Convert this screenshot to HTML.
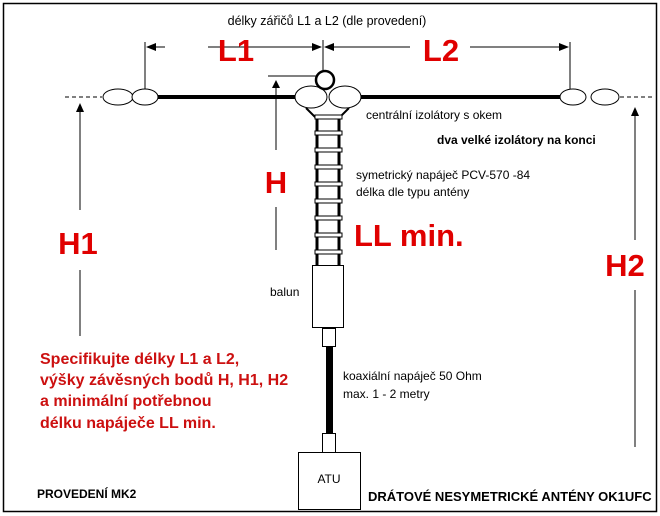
<!DOCTYPE html>
<html><head><meta charset="utf-8"><style>
html,body{margin:0;padding:0;background:#fff}
svg{display:block}
text{font-family:"Liberation Sans",sans-serif}
</style></head><body>
<svg width="660" height="516" viewBox="0 0 660 516" xmlns="http://www.w3.org/2000/svg">
<rect x="3.5" y="3.5" width="653" height="508" fill="none" stroke="#000" stroke-width="1.5"/>
<line x1="65" y1="97" x2="102" y2="97" stroke="#000" stroke-dasharray="4,3"/>
<line x1="620" y1="97" x2="655" y2="97" stroke="#000" stroke-dasharray="4,3"/>
<line x1="158" y1="97" x2="298" y2="97" stroke="#000" stroke-width="4"/>
<line x1="358" y1="97" x2="562" y2="97" stroke="#000" stroke-width="4"/>
<ellipse cx="118" cy="97" rx="15" ry="8" fill="#fff" stroke="#000"/>
<ellipse cx="145" cy="97" rx="13" ry="8" fill="#fff" stroke="#000"/>
<ellipse cx="573" cy="97" rx="13" ry="8" fill="#fff" stroke="#000"/>
<ellipse cx="605" cy="97" rx="14" ry="8" fill="#fff" stroke="#000"/>
<line x1="145" y1="42" x2="145" y2="89" stroke="#000"/>
<line x1="570" y1="42" x2="570" y2="89" stroke="#000"/>
<line x1="323" y1="40" x2="323" y2="72" stroke="#000"/>
<line x1="150" y1="47" x2="165" y2="47" stroke="#000"/>
<line x1="208" y1="47" x2="318" y2="47" stroke="#000"/>
<line x1="328" y1="47" x2="410" y2="47" stroke="#000"/>
<line x1="470" y1="47" x2="565" y2="47" stroke="#000"/>
<polygon points="146,47 156,43 156,51" fill="#000"/>
<polygon points="322,47 312,43 312,51" fill="#000"/>
<polygon points="324,47 334,43 334,51" fill="#000"/>
<polygon points="569,47 559,43 559,51" fill="#000"/>
<text x="327" y="25" font-size="12.5" text-anchor="middle">délky zářičů L1 a L2  (dle provedení)</text>
<text x="236" y="61" font-size="31" font-weight="bold" fill="#e00000" text-anchor="middle">L1</text>
<text x="441" y="61" font-size="31" font-weight="bold" fill="#e00000" text-anchor="middle">L2</text>
<path d="M306 108 L316 118 L339 118 L349 108" fill="#fff" stroke="#000" stroke-width="2"/>
<ellipse cx="311" cy="97" rx="16" ry="11" fill="#fff" stroke="#000"/>
<ellipse cx="345" cy="97" rx="16" ry="11" fill="#fff" stroke="#000"/>
<circle cx="325" cy="80" r="9" fill="#fff" stroke="#000" stroke-width="2.5"/>
<line x1="268" y1="76" x2="318" y2="76" stroke="#000"/>
<line x1="276" y1="86" x2="276" y2="150" stroke="#000"/>
<line x1="276" y1="207" x2="276" y2="250" stroke="#000"/>
<polygon points="276,80 272,88 280,88" fill="#000"/>
<text x="276" y="193" font-size="31" font-weight="bold" fill="#e00000" text-anchor="middle">H</text>
<line x1="317" y1="118" x2="317" y2="265" stroke="#000" stroke-width="3"/>
<line x1="339" y1="118" x2="339" y2="265" stroke="#000" stroke-width="3"/>
<g fill="#fff" stroke="#000">
<rect x="315" y="115" width="27" height="4"/>
<rect x="315" y="131" width="27" height="4"/>
<rect x="315" y="148" width="27" height="4"/>
<rect x="315" y="165" width="27" height="4"/>
<rect x="315" y="182" width="27" height="4"/>
<rect x="315" y="199" width="27" height="4"/>
<rect x="315" y="216" width="27" height="4"/>
<rect x="315" y="233" width="27" height="4"/>
<rect x="315" y="250" width="27" height="4"/>
</g>
<rect x="312.5" y="265.5" width="31" height="62" fill="#fff" stroke="#000"/>
<rect x="322.5" y="328.5" width="13" height="18" fill="#fff" stroke="#000"/>
<rect x="326" y="347" width="7" height="86" fill="#000"/>
<rect x="322.5" y="433.5" width="13" height="19" fill="#fff" stroke="#000"/>
<rect x="298.5" y="452.5" width="62" height="57" fill="#fff" stroke="#000"/>
<text x="329" y="483" font-size="12" text-anchor="middle">ATU</text>
<text x="270" y="296" font-size="12">balun</text>
<line x1="80" y1="108" x2="80" y2="210" stroke="#000"/>
<line x1="80" y1="270" x2="80" y2="336" stroke="#000"/>
<polygon points="80,103 76,112 84,112" fill="#000"/>
<text x="78" y="254" font-size="31" font-weight="bold" fill="#e00000" text-anchor="middle">H1</text>
<line x1="635" y1="112" x2="635" y2="240" stroke="#000"/>
<line x1="635" y1="290" x2="635" y2="447" stroke="#000"/>
<polygon points="635,107 631,116 639,116" fill="#000"/>
<text x="625" y="276" font-size="31" font-weight="bold" fill="#e00000" text-anchor="middle">H2</text>
<text x="366" y="119" font-size="12">centrální izolátory s okem</text>
<text x="437" y="144" font-size="12" font-weight="bold">dva velké izolátory na konci</text>
<text x="356" y="179" font-size="12">symetrický napáječ PCV-570 -84</text>
<text x="356" y="196" font-size="12">délka dle typu antény</text>
<text x="354" y="246" font-size="31" font-weight="bold" fill="#e00000">LL min.</text>
<text x="343" y="380" font-size="12">koaxiální napáječ 50 Ohm</text>
<text x="343" y="398" font-size="12">max. 1 - 2 metry</text>
<g font-size="16" font-weight="bold" fill="#cc1010">
<text x="40" y="364">Specifikujte délky L1 a L2,</text>
<text x="40" y="385">výšky závěsných bodů H, H1, H2</text>
<text x="40" y="406">a minimální potřebnou</text>
<text x="40" y="428">délku napáječe LL min.</text>
</g>
<text x="37" y="498" font-size="12" font-weight="bold">PROVEDENÍ MK2</text>
<text x="368" y="501" font-size="13" font-weight="bold">DRÁTOVÉ NESYMETRICKÉ ANTÉNY OK1UFC</text>
</svg>
</body></html>
